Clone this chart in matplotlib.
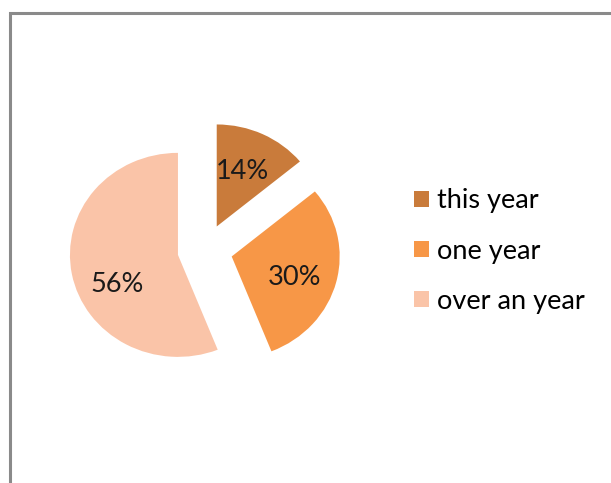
"""Pie chart of time split with exploded slices and a side legend."""

import matplotlib

matplotlib.use("Agg")
from matplotlib import pyplot as plt  # noqa: E402
from matplotlib.patches import Patch, Rectangle  # noqa: E402

labels = ["this year", "one year", "over an year"]
shares = [14, 30, 56]
colors = ["#C97B3B", "#F79747", "#FAC4A8"]

W, H = 611, 483
FONT = {"family": "Lato", "size": 19.5}
fig = plt.figure(figsize=(W / 100, H / 100), dpi=100)
fig.patch.set_facecolor("white")

# chart border, open to the right and bottom edges
fig.patches.append(
    Rectangle((10 / W, -0.1), 1.2, (H - 13) / H + 0.1, transform=fig.transFigure,
              fill=False, edgecolor="#8a8a8a", linewidth=2.2)
)

# pie centred at (205, 250) px, radii 108 x 102 px
cx, cy, rx, ry, lim = 205, H - 250, 108, 102, 1.5
ax = fig.add_axes([(cx - lim * rx) / W, (cy - lim * ry) / H, 2 * lim * rx / W, 2 * lim * ry / H])
wedges, _, autotexts = ax.pie(
    shares,
    colors=colors,
    startangle=90,
    counterclock=False,
    explode=[0.255] * len(shares),
    autopct="%d%%",
    pctdistance=0.6,
    textprops={**FONT, "color": "#1a1a1a"},
)
ax.set_aspect("auto")
ax.set_xlim(-lim, lim)
ax.set_ylim(-lim, lim)
ax.axis("off")

# nudge the value labels a little (in pie-radius units)
label_nudge = [(-0.02, 0.0), (0.0, -0.06), (0.03, -0.18)]
for txt, (dx, dy) in zip(autotexts, label_nudge):
    x, y = txt.get_position()
    txt.set_position((x + dx, y + dy))

handles = [Patch(facecolor=c, edgecolor="none") for c in colors]
fig.legend(
    handles,
    labels,
    loc="center left",
    bbox_to_anchor=(414 / W, (H - 251) / H),
    frameon=False,
    prop=FONT,
    borderpad=0,
    borderaxespad=0,
    handlelength=0.55,
    handleheight=0.55,
    handletextpad=0.3,
    labelspacing=0.93,
)

fig.savefig("out.png", dpi=100)
